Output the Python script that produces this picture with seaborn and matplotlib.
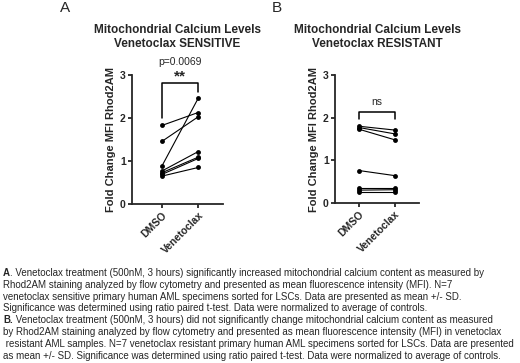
import pandas as pd
import matplotlib
matplotlib.use('Agg')
import matplotlib.pyplot as plt
import seaborn as sns

# (fold change MFI Rhod2AM), paired by specimen
conditions = ['DMSO', 'Venetoclax']
sensitive_dmso = [1.83, 1.46, 0.89, 0.77, 0.73, 0.69, 0.65]
sensitive_ven = [2.13, 2.03, 2.46, 1.22, 1.09, 1.06, 0.85]
resistant_dmso = [1.80, 1.77, 1.73, 0.76, 0.36, 0.30, 0.25]
resistant_ven = [1.71, 1.62, 1.48, 0.64, 0.36, 0.31, 0.25]
yticks = [0, 1, 2, 3]

caption = [
    ('A', '. Venetoclax treatment (500nM, 3 hours) significantly increased mitochondrial calcium content as measured by'),
    ('', 'Rhod2AM staining analyzed by flow cytometry and presented as mean fluorescence intensity (MFI). N=7'),
    ('', 'venetoclax sensitive primary human AML specimens sorted for LSCs. Data are presented as mean +/- SD.'),
    ('', 'Significance was determined using ratio paired t-test. Data were normalized to average of controls.'),
    ('B.', ' Venetoclax treatment (500nM, 3 hours) did not significantly change mitochondrial calcium content as measured'),
    ('', 'by Rhod2AM staining analyzed by flow cytometry and presented as mean fluorescence intensity (MFI) in venetoclax'),
    ('', ' resistant AML samples. N=7 venetoclax resistant primary human AML specimens sorted for LSCs. Data are presented'),
    ('', 'as mean +/- SD. Significance was determined using ratio paired t-test. Data were normalized to average of controls.'),
]

sns.set_style('ticks')
plt.rcParams['font.family'] = ['Liberation Sans', 'DejaVu Sans']


def make_long(dmso, ven):
    rows = []
    for i, (a, b) in enumerate(zip(dmso, ven)):
        rows.append({'pair': i, 'condition': conditions[0], 'value': a})
        rows.append({'pair': i, 'condition': conditions[1], 'value': b})
    return pd.DataFrame(rows)


def draw_panel(ax, df, title, xlim):
    sns.lineplot(data=df, x='condition', y='value', units='pair', estimator=None,
                 color='black', linewidth=0.8, marker='o', markersize=3.5,
                 markeredgewidth=0, ax=ax, legend=False)
    for art in ax.lines:
        art.set_clip_on(False)
    ax.set_ylim(0, 3)
    ax.set_xlim(*xlim)
    ax.set_yticks(yticks)
    ax.set_yticklabels([str(t) for t in yticks], fontweight='bold', fontsize=7.5)
    ax.set_xticks([0, 1])
    ax.set_xticklabels(conditions, rotation=45, ha='right', rotation_mode='anchor',
                       fontweight='bold', fontsize=7.5)
    ax.set_xlabel('')
    ax.set_ylabel('Fold Change MFI Rhod2AM', fontweight='bold', fontsize=8, labelpad=3)
    ax.set_title(title, fontweight='bold', fontsize=8.5, pad=20, linespacing=1.3)
    sns.despine(ax=ax)
    for s in ['left', 'bottom']:
        ax.spines[s].set_linewidth(1.3)
    ax.tick_params(width=1.3, length=3, pad=1.5)


fig = plt.figure(figsize=(5.2, 3.63), dpi=100)
ax_a = fig.add_axes([0.254, 0.438, 0.175, 0.355])
ax_b = fig.add_axes([0.644, 0.441, 0.162, 0.352])

draw_panel(ax_a, make_long(sensitive_dmso, sensitive_ven),
           'Mitochondrial Calcium Levels\nVenetoclax SENSITIVE', (-0.83, 1.69))
draw_panel(ax_b, make_long(resistant_dmso, resistant_ven),
           'Mitochondrial Calcium Levels\nVenetoclax RESISTANT', (-0.67, 1.67))

# significance brackets
ax_a.plot([0, 0, 1, 1], [2.0, 2.82, 2.82, 2.6], color='black', lw=1.1, clip_on=False)
ax_a.text(0.5, 2.80, '**', ha='center', va='bottom', fontsize=11, fontweight='bold')
ax_a.text(0.5, 3.18, 'p=0.0069', ha='center', va='bottom', fontsize=7.5)
ax_b.plot([0, 0, 1, 1], [1.97, 2.14, 2.14, 1.97], color='black', lw=1.1, clip_on=False)
ax_b.text(0.5, 2.25, 'ns', ha='center', va='bottom', fontsize=7.5)

fig.text(65 / 520, 1 - 8 / 363, 'A', fontsize=11, ha='center', va='center')
fig.text(277 / 520, 1 - 8 / 363, 'B', fontsize=11, ha='center', va='center')

# caption, bold panel letter followed by regular text
y0 = 273
for i, (bold, rest) in enumerate(caption):
    y = 1 - (y0 + i * 11.8) / 363
    t = fig.text(3 / 520, y, bold, fontsize=7, fontweight='bold', va='center', ha='left')
    fig.text(0, 0, '')
    plt.annotate(rest, xy=(1, 0.5), xycoords=t, va='center', ha='left',
                 fontsize=7, annotation_clip=False)

fig.savefig('out.png', dpi=100)
